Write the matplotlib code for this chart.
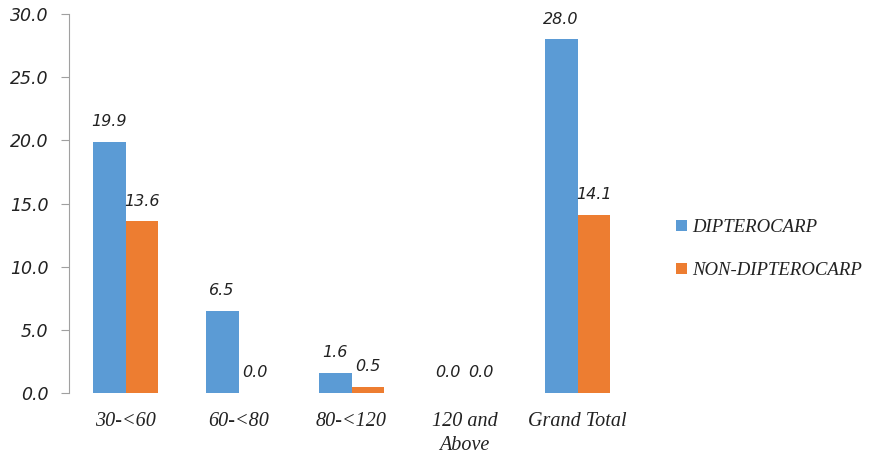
import numpy as np
import matplotlib.pyplot as plt

# Data
categories = ['30-<60', '60-<80', '80-<120', '120 and\nAbove', 'Grand Total']
dipterocarp = [19.9, 6.5, 1.6, 0.0, 28.0]
non_dipterocarp = [13.6, 0.0, 0.5, 0.0, 14.1]

blue = '#5B9BD5'
orange = '#ED7D31'
serif_it = dict(family='Liberation Serif', style='italic')
sans_it = dict(family='DejaVu Sans', style='italic')

fig = plt.figure(figsize=(8.78, 4.58), dpi=100)
ax = fig.add_axes([0.0786, 0.142, 0.6435, 0.827])

x = np.arange(len(categories))
w = 0.29
b1 = ax.bar(x - w / 2, dipterocarp, w, color=blue, label='DIPTEROCARP')
b2 = ax.bar(x + w / 2, non_dipterocarp, w, color=orange, label='NON-DIPTEROCARP')

for bars, vals in ((b1, dipterocarp), (b2, non_dipterocarp)):
    for bar, v in zip(bars, vals):
        ax.annotate(f'{v:.1f}', (bar.get_x() + bar.get_width() / 2, v),
                    xytext=(0, 9), textcoords='offset points',
                    ha='center', va='bottom', fontsize=11.5, color='#222222', **sans_it)

ax.set_xlim(-0.5, len(categories) - 0.5)
ax.set_ylim(0, 30)
ax.set_yticks(np.arange(0, 30.1, 5))
ax.set_yticklabels([f'{t:.1f}' for t in np.arange(0, 30.1, 5)], fontsize=12.5, color='#222222', **sans_it)
ax.set_xticks(x)
ax.set_xticklabels(categories, fontsize=14.5, color='#222222', linespacing=1.3, **serif_it)

for s in ('top', 'right', 'bottom'):
    ax.spines[s].set_visible(False)
ax.spines['left'].set_color('#A0A0A0')
ax.tick_params(axis='y', direction='out', length=6, color='#A0A0A0', pad=9)
ax.tick_params(axis='x', length=0, pad=14)

leg = fig.legend(handles=[b1, b2], loc='center left', bbox_to_anchor=(0.751, 0.456),
                 frameon=False, prop=dict(size=13.5, **serif_it), handlelength=0.55,
                 handleheight=0.55, handletextpad=0.3, labelspacing=1.4)
for t in leg.get_texts():
    t.set_color('#222222')

fig.savefig('out.png', dpi=100)
